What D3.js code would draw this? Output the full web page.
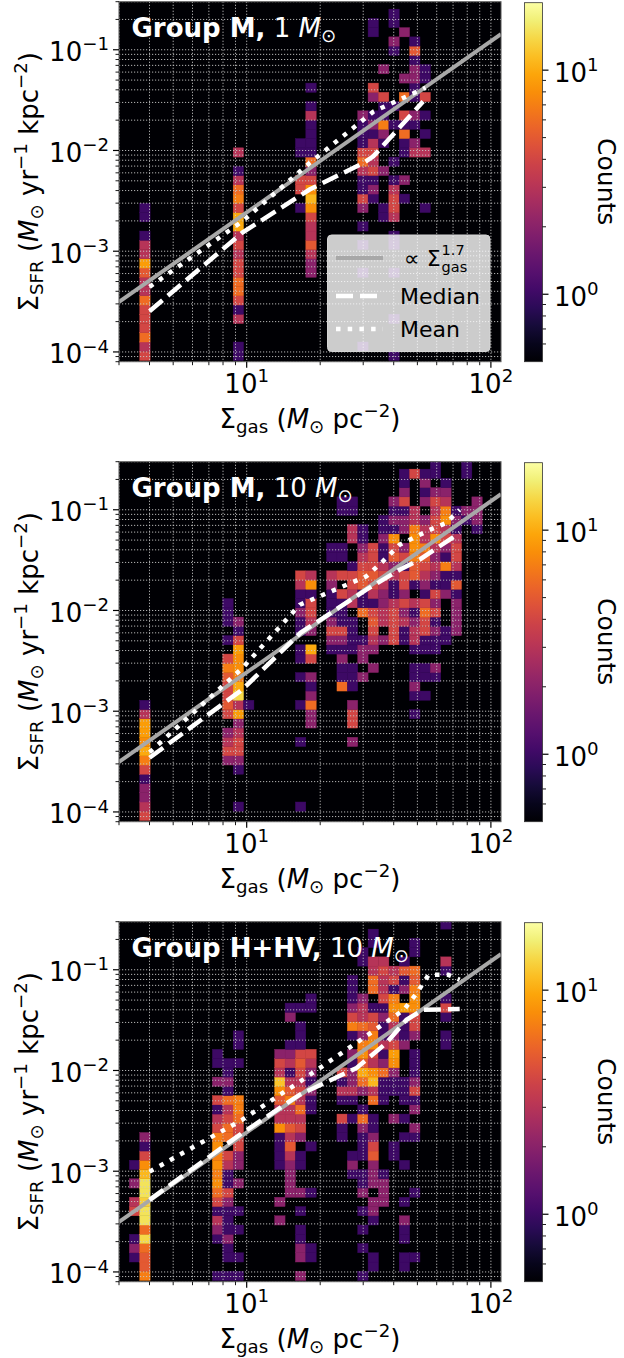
<!DOCTYPE html>
<html lang="en">
<head>
<meta charset="UTF-8">
<title>Sigma_SFR vs Sigma_gas</title>
<script src="https://d3js.org/d3.v7.min.js"></script>
<style>
  body { margin: 0; background: #fff; }
  svg { display: block; font-family: "DejaVu Sans", sans-serif; }
</style>
</head>
<body>
<svg id="chart" width="624" height="1358"></svg>
<script>
// 2D histogram binning, log10 space
const xBinStart = Math.log10(3), xBinWidth = 0.0425;
const yBinStart = -4.085, yBinHeight = 0.0918;

// cells: [column, first row, counts going up the column] (0 = empty)
const cellsM1 = [
  [2, 0, [4,3,6,4,4,4,6,3,3,5,9,3,3,1,0,1,1]],
  [11, 0, [1,1,0,0,3,1,4,6,6,4,4,3,4,3,10,10,4,7,6,3,1,0,3]],
  [17, 16, [1,0,4,4,0,0,1,1]],
  [18, 9, [2,2,3,5,3,3,4,8,11,8,4,2,6,1,1,1,1,3,1,0,1]],
  [23, 1, [1,0,0,0,0,0,0,0,1,0,0,1,0,1,0,2,4,1,1,3,6,4,1,1,1,2]],
  [24, 17, [1,2,1,4,3,4,3,1,2,1,0,2,4,0,0,0,0,0,1,1]],
  [25, 15, [1,1,0,0,0,2,0,0,1,2,7,1,1,4,0,0,2]],
  [26, 0, [1,0,0,0,1,0,0,0,0,1,0,0,1,1,0,3,4,4,3,1,0,1,0,0,0,1,0,1,0,0,0,0,0,1,2,0,1,1]],
  [27, 17, [1,0,2,0,0,1,1,6,1,4,0,6,0,2,0,0,0,0,2]],
  [28, 22, [3,2,0,1,2,0,1,1,2,2,1,5,1]],
  [29, 16, [1,0,0,0,0,0,3,0,1,0,1,0,4,0,1,1]]
];
const cellsM10 = [
  [2, 0, [4,3,2,2,1,4,7,10,8,9,9,3,1]],
  [10, 6, [2,4,3,2,0,4,5,4,4,5,7,4,0,1,0,1,1,1]],
  [11, 1, [1,0,0,0,1,2,4,4,3,2,9,3,14,10,7,8,8,9,4,1,2]],
  [12, 12, [1]],
  [17, 1, [1,0,0,0,0,0,0,1,0,0,0,1,0,0,1,0,1,1,0,1,1,2,1,1,3,4]],
  [18, 10, [2,2,6,2,1,2,0,4,10,0,2,3,4,4,1,8,3]],
  [20, 18, [1,2,4,2,1,1,1,2,3,0,1,1]],
  [21, 14, [6,1,1,2,1,2,4,1,1,1,4,0,4,0,1,1,0,0,0,1,1]],
  [22, 8, [2,0,4,4,2,0,1,1,1,0,1,1,1,1,0,3,3,4,4,1,0,0,3,3,0,1,1]],
  [23, 15, [2,0,2,2,1,0,0,6,1,1,5,5,4,3,2,1,1]],
  [24, 16, [2,0,2,3,4,5,4,1,3,4,5,4,4,4]],
  [25, 19, [2,0,3,3,2,2,3,4,3,1,1,2,1,1]],
  [26, 19, [4,4,4,4,3,1,1,3,2,5,4,8,1,2,1,2]],
  [27, 19, [1,1,3,2,4,2,4,4,1,4,2,0,2,2,1,4,2,1,1]],
  [28, 11, [1,0,1,2,1,1,0,1,3,3,2,1,3,0,1,5,5,7,8,8,7,3,3,0,0,0,4]],
  [29, 13, [1,0,1,1,0,1,1,4,4,6,4,1,2,3,4,5,7,3,3,2,0,2,1,2,1]],
  [30, 15, [1,2,0,1,1,2,1,4,2,4,1,2,3,2,3,8,4,4,3,4,2,0,1,1]],
  [31, 19, [1,1,0,0,0,2,1,1,7,1,2,4,3,8,7,3,2,1]],
  [32, 20, [2,2,2,2,1,5,1,3,4,4,3,1,2,1]],
  [33, 32, [1,2,0,0,0,1,1]],
  [34, 31, [1,2,2,2]]
];
const cellsHHV10 = [
  [1, 2, [1,2,1,0,0,4,3,0,2,0,1]],
  [2, 0, [7,5,5,6,14,6,15,15,13,15,15,11,8,4,1,2]],
  [9, 0, [1,0,0,0,1,2,3,1,4,6,8,7,8,7,8,7,4,3,1,4,0,2,0,1,1]],
  [10, 0, [1,0,1,1,2,1,1,1,2,4,1,1,3,4,0,6,6,4,3,6,1,2,1,1]],
  [11, 0, [1,0,1,0,0,1,0,1,0,0,2,0,2,2,4,4,4,6,7,7,0,0,0,1,0,1,1]],
  [15, 6, [2,0,2,0,0,0,1,1,1,1,8,3,3,5,8,12,3,4,2]],
  [16, 9, [2,2,2,2,3,5,3,5,3,3,7,5,3,1,3,2,1,0,0,2,1]],
  [17, 0, [2,0,2,2,1,1,0,1,0,2,0,0,1,1,0,2,4,3,6,3,4,3,4,5,4,1,1,1,0,1]],
  [18, 2, [1,1,0,0,0,0,0,1,0,0,0,0,1,0,0,0,1,1,2,1,2,3,4,0,0,0,0,1,1]],
  [21, 15, [1,1,4,0,1,3,1,4]],
  [22, 11, [1,2,1,0,0,0,1,0,1,3,2,2,1,2,0,1,7,4,2,1,1,1]],
  [23, 0, [1,0,0,1,0,1,0,1,0,2,1,1,0,1,1,1,2,6,1,0,2,6,10,5,8,7,2,6,3,3,2,0,0,0,1,1]],
  [24, 1, [1,1,0,0,0,1,2,2,0,2,2,2,5,4,2,1,1,0,6,3,11,8,3,4,8,7,5,4,1,0,6,6,3,3,0,1,1]],
  [25, 8, [2,2,2,1,0,0,0,0,0,0,0,1,1,1,6,2,1,3,1,1,2,1,4,3,3,4,3]],
  [26, 13, [1,1,0,0,2,0,0,1,1,2,8,9,4,2,3,6,8,7,1,4,3]],
  [27, 1, [1,1,0,1,1,2,0,1,0,0,0,1,0,0,1,0,1,0,1,1,1,0,0,0,2,1,1,1,9,0,2,1,5,1]],
  [28, 2, [1,0,0,0,0,0,0,1,0,0,0,0,0,1,2,0,2,1,4,2,1,1,1,0,2,4,4,8,8,7,5,6,0,1,1]],
  [31, 25, [1,1,0,1,4,1,0,0,1,3,0,0,0,1]]
];

// binned median / mean curves: [Sigma_gas, Sigma_SFR]
const medianM1 = [[4.0,2.54e-4],[9.6,1.53e-3],[18.1,4.1e-3],[30.0,7.5e-3],[33.0,8.75e-3],[52.8,3.07e-2]];
const meanM1   = [[4.0,4.43e-4],[9.6,1.98e-3],[18.1,7.5e-3],[33.0,2.43e-2],[54.0,4.2e-2]];
const medianM10 = [[4.0,3.45e-4],[9.6,1.64e-3],[16.6,6.0e-3],[30.9,1.61e-2],[42.3,2.54e-2],[51.0,3.19e-2],[74.5,5.9e-2]];
const meanM10   = [[4.0,3.9e-4],[9.6,2.68e-3],[16.5,1.14e-2],[30.9,2.18e-2],[36.1,3.07e-2],[42.3,4.5e-2],[56.1,6.3e-2],[65.6,7.4e-2],[74.5,0.1]];
const medianHHV10 = [[4.0,5.2e-4],[9.6,2.4e-3],[16.5,5.75e-3],[28.2,1.06e-2],[37.3,1.87e-2],[45.1,3.19e-2],[52.7,4.0e-2],[74.5,4.07e-2]];
const meanHHV10   = [[4.0,9.9e-4],[9.6,3.25e-3],[16.5,7.74e-3],[27.4,1.8e-2],[44.0,4.0e-2],[49.8,5.9e-2],[55.6,8.9e-2],[67.0,8.9e-2],[74.5,7.96e-2]];

// power law reference: Sigma_SFR = fitNorm * Sigma_gas^fitSlope
const fitSlope = 1.7, fitNorm = 4.84e-5;

const xDomain = [3, 110], yDomain = [8e-5, 0.3], countDomain = [0.5, 20];
const titles = [
  [["Group M,", "b"], [" 1 ", "n"], ["M", "i"], ["⊙", "sub"]],
  [["Group M,", "b"], [" 10 ", "n"], ["M", "i"], ["⊙", "sub"]],
  [["Group H+HV,", "b"], [" 10 ", "n"], ["M", "i"], ["⊙", "sub"]]
];
const xLabel = [["Σ", "n"], ["gas", "sub"], [" (", "n"], ["M", "i"], ["⊙", "sub"], [" pc", "n"], ["−2", "sup"], [")", "n"]];
const yLabel = [["Σ", "n"], ["SFR", "sub"], [" (", "n"], ["M", "i"], ["⊙", "sub"], [" yr", "n"], ["−1", "sup"], [" kpc", "n"], ["−2", "sup"], [")", "n"]];
const fitLabel = ["∝ Σ", "gas", "1.7"];
const legendLabels = ["Median", "Mean"];

const panels = [
  { top: 0,   title: titles[0], cells: cellsM1,    median: medianM1,    mean: meanM1,    legend: true },
  { top: 460, title: titles[1], cells: cellsM10,   median: medianM10,   mean: meanM10,   legend: false },
  { top: 920, title: titles[2], cells: cellsHHV10, median: medianHHV10, mean: meanHHV10, legend: false }
];

const svg = d3.select("#chart");
const X0 = 119, X1 = 501, Y0 = 1.7, Y1 = 361.7;
const CB0 = 524.5, CB1 = 542.5;
const FS = 26;

const x = d3.scaleLog().domain(xDomain).range([X0, X1]);
const y = d3.scaleLog().domain(yDomain).range([Y1, Y0]);
const color = d3.scaleSequentialLog(d3.interpolateInferno).domain(countDomain);
const cb = d3.scaleLog().domain(countDomain).range([Y1, Y0 + 1]);

const defs = svg.append("defs");
defs.append("clipPath").attr("id", "plotclip")
  .append("rect").attr("x", X0).attr("y", Y0).attr("width", X1 - X0).attr("height", Y1 - Y0);
const grad = defs.append("linearGradient").attr("id", "cbgrad")
  .attr("x1", 0).attr("y1", 1).attr("x2", 0).attr("y2", 0);
d3.range(0, 1.0001, 0.05).forEach(t => {
  grad.append("stop").attr("offset", t).attr("stop-color", d3.interpolateInferno(t));
});

// math-like text with sub/superscripts
function richText(sel, parts, size) {
  let cur = 0;
  parts.forEach(([t, k]) => {
    const small = k === "sub" || k === "sup";
    const target = k === "sub" ? 0.2 * size : k === "sup" ? -0.42 * size : 0;
    const ts = sel.append("tspan").text(t)
      .attr("font-size", small ? size * 0.7 : size)
      .attr("dy", target - cur);
    if (k === "i") ts.attr("font-style", "italic");
    if (k === "b") ts.attr("font-weight", "bold");
    cur = target;
  });
  return sel;
}
function powLabel(v) {
  const e = Math.round(Math.log10(v));
  return [["10", "n"], [e < 0 ? "−" + (-e) : String(e), "sup"]];
}
const isMajor = v => Math.abs(Math.log10(v) - Math.round(Math.log10(v))) < 1e-9;

function cellRects(cols) {
  const out = [];
  cols.forEach(([col, r0, counts]) => counts.forEach((c, i) => {
    if (c > 0) out.push({ col, row: r0 + i, c });
  }));
  return out;
}

const line = d3.line().x(d => x(d[0])).y(d => y(d[1]));

panels.forEach(p => {
  const g = svg.append("g").attr("transform", `translate(0,${p.top})`);

  const plot = g.append("g").attr("clip-path", "url(#plotclip)");
  plot.append("rect").attr("x", X0).attr("y", Y0)
    .attr("width", X1 - X0).attr("height", Y1 - Y0).attr("fill", "#000004");

  plot.selectAll("rect.cell").data(cellRects(p.cells)).enter().append("rect")
    .attr("class", "cell")
    .attr("x", d => x(10 ** (xBinStart + d.col * xBinWidth)))
    .attr("width", d => x(10 ** (xBinStart + (d.col + 1) * xBinWidth)) - x(10 ** (xBinStart + d.col * xBinWidth)))
    .attr("y", d => y(10 ** (yBinStart + (d.row + 1) * yBinHeight)))
    .attr("height", d => y(10 ** (yBinStart + d.row * yBinHeight)) - y(10 ** (yBinStart + (d.row + 1) * yBinHeight)))
    .attr("fill", d => color(d.c))
    .attr("stroke", d => color(d.c)).attr("stroke-width", 0.4);

  // grid at major and minor ticks
  plot.selectAll("line.gx").data(x.ticks()).enter().append("line")
    .attr("x1", d => x(d)).attr("x2", d => x(d)).attr("y1", Y0).attr("y2", Y1)
    .attr("stroke", "#c8c8c8").attr("stroke-width", 0.9).attr("stroke-dasharray", "1.2,1.8");
  plot.selectAll("line.gy").data(y.ticks()).enter().append("line")
    .attr("y1", d => y(d)).attr("y2", d => y(d)).attr("x1", X0).attr("x2", X1)
    .attr("stroke", "#c8c8c8").attr("stroke-width", 0.9).attr("stroke-dasharray", "1.2,1.8");

  // reference power law
  plot.append("path")
    .attr("d", line(xDomain.map(v => [v, fitNorm * Math.pow(v, fitSlope)])))
    .attr("stroke", "#a8a8a8").attr("stroke-width", 4).attr("fill", "none");

  plot.append("path").attr("d", line(p.median))
    .attr("stroke", "#fff").attr("stroke-width", 4.5).attr("fill", "none")
    .attr("stroke-dasharray", "17,7");
  plot.append("path").attr("d", line(p.mean))
    .attr("stroke", "#fff").attr("stroke-width", 4.5).attr("fill", "none")
    .attr("stroke-dasharray", "4.5,7.2");

  // title
  richText(g.append("text").attr("x", 131.5).attr("y", 36.5).attr("fill", "#fff"), p.title, FS);

  // legend
  if (p.legend) {
    const lg = g.append("g");
    lg.append("rect").attr("x", 327.5).attr("y", 235).attr("width", 162.5).attr("height", 116.5)
      .attr("rx", 4).attr("fill", "#fff").attr("fill-opacity", 0.8)
      .attr("stroke", "#d6d6d6").attr("stroke-width", 1);
    const ls = [258, 296, 329];
    lg.append("line").attr("x1", 336).attr("x2", 383).attr("y1", ls[0]).attr("y2", ls[0])
      .attr("stroke", "#a8a8a8").attr("stroke-width", 4);
    lg.append("line").attr("x1", 336).attr("x2", 383).attr("y1", ls[1]).attr("y2", ls[1])
      .attr("stroke", "#fff").attr("stroke-width", 4.5).attr("stroke-dasharray", "17,7");
    lg.append("line").attr("x1", 336).attr("x2", 383).attr("y1", ls[2]).attr("y2", ls[2])
      .attr("stroke", "#fff").attr("stroke-width", 4.5).attr("stroke-dasharray", "4.5,7.2");
    // "∝ Σ" with stacked subscript and superscript, one text element
    const t0 = lg.append("text").attr("x", 404).attr("y", ls[0] + 8).attr("font-size", 22);
    t0.append("tspan").text(fitLabel[0]);
    const sub = t0.append("tspan").attr("font-size", 14.5).attr("dx", 1).attr("dy", 6).text(fitLabel[1]);
    const wSub = sub.node().getComputedTextLength();
    t0.append("tspan").attr("font-size", 14.5).attr("dx", -wSub).attr("dy", -17).text(fitLabel[2]);
    legendLabels.forEach((t, i) => {
      lg.append("text").attr("x", 400).attr("y", ls[i + 1] + 8).attr("font-size", 22).text(t);
    });
  }

  // frame
  g.append("rect").attr("x", X0).attr("y", Y0).attr("width", X1 - X0).attr("height", Y1 - Y0)
    .attr("fill", "none").attr("stroke", "#555").attr("stroke-width", 1);

  // x ticks
  g.selectAll("line.xt").data(x.ticks()).enter().append("line")
    .attr("x1", d => x(d)).attr("x2", d => x(d))
    .attr("y1", Y1).attr("y2", d => Y1 + (isMajor(d) ? 6 : 3.5))
    .attr("stroke", "#000").attr("stroke-width", d => isMajor(d) ? 1.2 : 0.9);
  x.ticks().filter(isMajor).forEach(v => {
    richText(g.append("text").attr("x", x(v)).attr("y", 393).attr("text-anchor", "middle"), powLabel(v), FS);
  });
  // y ticks
  g.selectAll("line.yt").data(y.ticks()).enter().append("line")
    .attr("y1", d => y(d)).attr("y2", d => y(d))
    .attr("x1", X0).attr("x2", d => X0 - (isMajor(d) ? 6 : 3.5))
    .attr("stroke", "#000").attr("stroke-width", d => isMajor(d) ? 1.2 : 0.9);
  y.ticks().filter(isMajor).forEach(v => {
    richText(g.append("text").attr("x", 109).attr("y", y(v) + 11.5).attr("text-anchor", "end"), powLabel(v), FS);
  });

  // axis labels
  richText(g.append("text").attr("x", (X0 + X1) / 2).attr("y", 428).attr("text-anchor", "middle"), xLabel, FS);
  richText(g.append("text").attr("text-anchor", "middle")
    .attr("transform", `translate(38,${(Y0 + Y1) / 2}) rotate(-90)`), yLabel, FS);

  // colorbar
  g.append("rect").attr("x", CB0).attr("y", cb.range()[1]).attr("width", CB1 - CB0)
    .attr("height", cb.range()[0] - cb.range()[1]).attr("fill", "url(#cbgrad)")
    .attr("stroke", "#333").attr("stroke-width", 0.8);
  g.selectAll("line.ct").data(cb.ticks().filter(v => v > 0.5 && v < 20)).enter().append("line")
    .attr("y1", d => cb(d)).attr("y2", d => cb(d))
    .attr("x1", CB1).attr("x2", d => CB1 + (isMajor(d) ? 6 : 3.5))
    .attr("stroke", "#000").attr("stroke-width", d => isMajor(d) ? 1.2 : 0.9);
  cb.ticks().filter(isMajor).forEach(v => {
    richText(g.append("text").attr("x", 554).attr("y", cb(v) + 11.5), powLabel(v), FS);
  });
  g.append("text").attr("text-anchor", "middle").attr("font-size", 25)
    .attr("transform", `translate(598,${(Y0 + Y1) / 2}) rotate(90)`).text("Counts");
});
</script>
</body>
</html>
